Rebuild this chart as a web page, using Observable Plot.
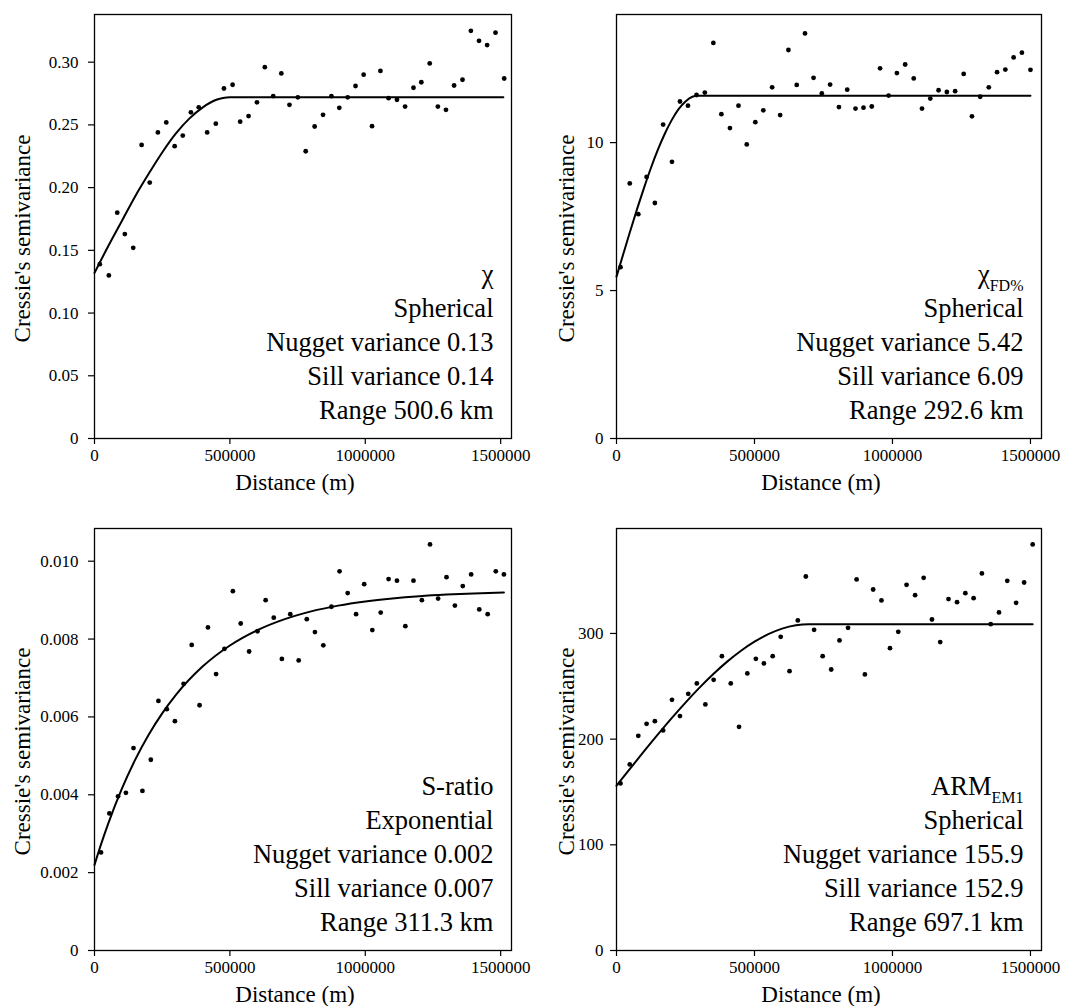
<!DOCTYPE html>
<html><head><meta charset="utf-8">
<script src="https://cdn.jsdelivr.net/npm/d3@7"></script>
<script src="https://cdn.jsdelivr.net/npm/@observablehq/plot@0.6"></script>
<style>
body{margin:0;background:#fff;}
#chart{position:relative;width:1067px;height:1006px;background:#fff;overflow:hidden}
#chart > div{position:absolute}
#chart svg, #chart svg text, #chart svg tspan{font-family:"Liberation Serif","Times New Roman",serif !important;}
</style></head><body><div id="chart"></div>
<script>
const xTicks = [0, 500000, 1000000, 1500000];

// Panel 1: chi
const chiDist = [19600,53000,84000,112000,143000,174000,204000,234000,265000,296000,326000,356000,385000,416000,448000,478000,510000,538000,569000,600000,629000,660000,690000,720000,751000,780000,813000,844000,875000,904000,935000,964000,994000,1025000,1056000,1086000,1117000,1147000,1178000,1207000,1238000,1268000,1298000,1328000,1359000,1390000,1420000,1450000,1481000,1513000];
const chiGamma = [0.139,0.130,0.180,0.163,0.152,0.234,0.204,0.244,0.252,0.233,0.2415,0.260,0.264,0.244,0.251,0.279,0.282,0.2526,0.257,0.268,0.296,0.273,0.291,0.266,0.272,0.229,0.2487,0.258,0.2729,0.2636,0.272,0.281,0.290,0.249,0.293,0.2713,0.270,0.2646,0.2796,0.284,0.299,0.2646,0.262,0.2814,0.286,0.325,0.317,0.3136,0.3235,0.287];
const chiFitDist = [0,50000,100000,150000,200000,250000,300000,350000,400000,450000,475000,500600,1510000];
const chiFit = [0.132,0.153,0.173,0.193,0.211,0.228,0.243,0.255,0.264,0.270,0.2715,0.272,0.272];
const chiYTicks = [0,0.05,0.10,0.15,0.20,0.25,0.30];
const chiText = ["χ","Spherical","Nugget variance 0.13","Sill variance 0.14","Range 500.6 km"];

// Panel 2: chi FD%
const fdDist = [14500,48000,79000,109000,139000,169000,201000,230000,259000,290000,320000,351000,380000,411000,442000,472000,503000,532000,564000,593000,623000,653000,683000,714000,744000,774000,806000,836000,866000,895000,925000,955000,986000,1016000,1046000,1077000,1107000,1137000,1167000,1197000,1227000,1258000,1288000,1318000,1349000,1379000,1409000,1439000,1469000,1500000];
const fdGamma = [5.79,8.62,7.58,8.84,7.96,10.61,9.35,11.39,11.25,11.61,11.69,13.37,10.96,10.49,11.25,9.94,10.69,11.09,11.87,10.93,13.13,11.95,13.69,12.19,11.66,11.96,11.20,11.79,11.15,11.18,11.22,12.51,11.59,12.35,12.64,12.17,11.15,11.49,11.77,11.71,11.74,12.32,10.89,11.55,11.87,12.38,12.47,12.88,13.04,12.46];
const fdFitDist = [0,25000,50000,75000,100000,125000,150000,175000,200000,225000,250000,275000,292600,1500000];
const fdFit = [5.47,6.25,7.02,7.77,8.48,9.15,9.76,10.30,10.76,11.13,11.39,11.55,11.58,11.58];
const fdYTicks = [0,5,10];
const fdText = ["χFD%","Spherical","Nugget variance 5.42","Sill variance 6.09","Range 292.6 km"];

// Panel 3: S-ratio
const srDist = [24000,55000,87000,116000,144000,177000,208000,236000,267000,297000,329000,359000,388000,419000,449000,480000,511000,540000,571000,602000,632000,662000,692000,723000,754000,784000,814000,845000,875000,905000,935000,966000,996000,1026000,1057000,1086000,1117000,1148000,1178000,1209000,1239000,1269000,1300000,1331000,1360000,1391000,1421000,1452000,1482000,1512000];
const srGamma = [0.00252,0.00352,0.00396,0.00405,0.00520,0.00410,0.00490,0.00641,0.00620,0.00589,0.00685,0.00785,0.00630,0.00830,0.00710,0.00775,0.00923,0.00840,0.00768,0.00820,0.00900,0.00855,0.00749,0.00864,0.00745,0.00851,0.00818,0.00784,0.00883,0.00974,0.00918,0.00864,0.00941,0.00823,0.00868,0.00954,0.00950,0.00833,0.00950,0.00900,0.01043,0.00904,0.00959,0.00886,0.00936,0.00966,0.00876,0.00864,0.00974,0.00966];
const srFitDist = [0,25000,50000,100000,150000,200000,250000,300000,400000,500000,600000,700000,800000,900000,1000000,1100000,1200000,1300000,1400000,1512000];
const srFit = [0.00220,0.002744,0.003246,0.004137,0.004896,0.005542,0.006092,0.006560,0.007299,0.007835,0.008224,0.008506,0.008711,0.008859,0.008966,0.009044,0.009101,0.009142,0.009172,0.009195];
const srYTicks = [0,0.002,0.004,0.006,0.008,0.010];
const srText = ["S-ratio","Exponential","Nugget variance 0.002","Sill variance 0.007","Range 311.3 km"];

// Panel 4: ARM EM1
const armDist = [14500,48000,79000,109000,139000,169000,201000,230000,260000,291000,322000,352000,382000,414000,444000,474000,505000,534000,566000,595000,627000,657000,686000,716000,747000,778000,808000,839000,870000,900000,930000,960000,991000,1021000,1051000,1082000,1113000,1143000,1173000,1203000,1234000,1264000,1294000,1324000,1356000,1386000,1416000,1448000,1477000,1508000];
const armGamma = [158.1,176.1,203.1,214.5,217.0,208.2,237.2,221.8,242.9,252.7,232.8,256.1,278.5,252.7,211.6,262.2,276.0,271.6,278.5,296.8,264.3,312.3,353.9,303.4,278.5,265.9,293.4,305.3,351.1,261.2,341.6,331.2,286.1,301.5,346.0,336.2,352.6,313.2,291.8,332.5,329.6,338.1,333.4,356.8,308.8,319.9,349.8,329.0,348.2,384.2];
const armFitDist = [0,50000,100000,150000,200000,250000,300000,350000,400000,450000,500000,550000,600000,650000,697100,1508000];
const armFit = [155.9,172.3,188.6,204.5,219.9,234.6,248.5,261.4,273.1,283.4,292.2,299.3,304.6,307.8,308.8,308.8];
const armYTicks = [0,100,200,300];
const armText = ["ARMEM1","Spherical","Nugget variance 155.9","Sill variance 152.9","Range 697.1 km"];

const subs = [{main: "χ", sub: "FD%"}, {main: "ARM", sub: "EM1"}];

const zip = (xs, ys) => xs.map((x, i) => ({x, y: ys[i]}));
const FONT = "Liberation Serif";
const lineOffsets = [156, 122, 88, 54, 20];

function panel(o) {
  const marks = [
    Plot.axisX({ticks: xTicks, tickFormat: d => String(d), tickSize: 6, tickPadding: 4, label: null, strokeWidth: 1.2, fontSize: 17, fontFamily: FONT}),
    Plot.axisY({ticks: o.yTicks, tickFormat: o.yFmt, tickSize: 6, tickPadding: o.tickPad, label: null, strokeWidth: 1.2, fontSize: 17, fontFamily: FONT}),
    Plot.line(zip(o.fitX, o.fitY), {x: "x", y: "y", curve: "monotone-x", stroke: "#000", strokeWidth: 2}),
    Plot.dot(zip(o.ptX, o.ptY), {x: "x", y: "y", r: 2.4, fill: "#000", stroke: "none"}),
    Plot.frame({stroke: "#000", strokeWidth: 1.3}),
    Plot.text(["Distance (m)"], {frameAnchor: "bottom", textAnchor: "middle", lineAnchor: "bottom", dy: 51, dx: -8, fontSize: 23, fontFamily: FONT}),
    Plot.text(["Cressie's semivariance"], {frameAnchor: "left", textAnchor: "middle", lineAnchor: "middle", rotate: -90, dx: o.titleDx, dy: 12, fontSize: 23, fontFamily: FONT}),
    ...o.lines.map((t, i) => Plot.text([t], {frameAnchor: "bottom-right", textAnchor: "end", lineAnchor: "bottom", dx: -18, dy: -lineOffsets[i], fontSize: 26.5, fontFamily: FONT}))
  ];
  const svg = Plot.plot({
    width: o.width, height: o.height,
    marginLeft: o.mL, marginRight: o.mR, marginTop: o.mT, marginBottom: o.mB,
    style: {fontFamily: FONT, fontSize: "17px", color: "#000", background: "transparent", overflow: "visible"},
    x: {domain: [0, 1540000]},
    y: {domain: o.yDomain},
    marks
  });
  svg.querySelectorAll("text").forEach(t => {
    for (const s of subs) {
      if (t.textContent === s.main + s.sub) {
        t.textContent = "";
        const a = document.createElementNS("http://www.w3.org/2000/svg", "tspan");
        a.textContent = s.main;
        const b = document.createElementNS("http://www.w3.org/2000/svg", "tspan");
        b.textContent = s.sub;
        b.setAttribute("font-size", "16");
        b.setAttribute("dy", "8");
        t.appendChild(a); t.appendChild(b);
      }
    }
  });
  const div = document.createElement("div");
  div.style.left = o.left + "px";
  div.style.top = o.top + "px";
  div.appendChild(svg);
  document.getElementById("chart").appendChild(div);
}

const fmt2 = d => d === 0 ? "0" : d.toFixed(2);
const fmt3 = d => d === 0 ? "0" : d.toFixed(3);
const fmt0 = d => String(d);

const L = {left: 0, width: 533, mL: 94, mR: 22, tickPad: 10, titleDx: -72};
const R = {left: 533, width: 534, mL: 83, mR: 26, tickPad: 7, titleDx: -50};
const T = {top: 0, height: 503, mT: 14, mB: 65};
const B = {top: 503, height: 503, mT: 25, mB: 56};

panel({...L, ...T, yDomain: [0, 0.338], yTicks: chiYTicks, yFmt: fmt2, ptX: chiDist, ptY: chiGamma, fitX: chiFitDist, fitY: chiFit, lines: chiText});
panel({...R, ...T, yDomain: [0, 14.33], yTicks: fdYTicks, yFmt: fmt0, ptX: fdDist, ptY: fdGamma, fitX: fdFitDist, fitY: fdFit, lines: fdText});
panel({...L, ...B, yDomain: [0, 0.01084], yTicks: srYTicks, yFmt: fmt3, ptX: srDist, ptY: srGamma, fitX: srFitDist, fitY: srFit, lines: srText});
panel({...R, ...B, yDomain: [0, 399.3], yTicks: armYTicks, yFmt: fmt0, ptX: armDist, ptY: armGamma, fitX: armFitDist, fitY: armFit, lines: armText});
</script></body></html>
